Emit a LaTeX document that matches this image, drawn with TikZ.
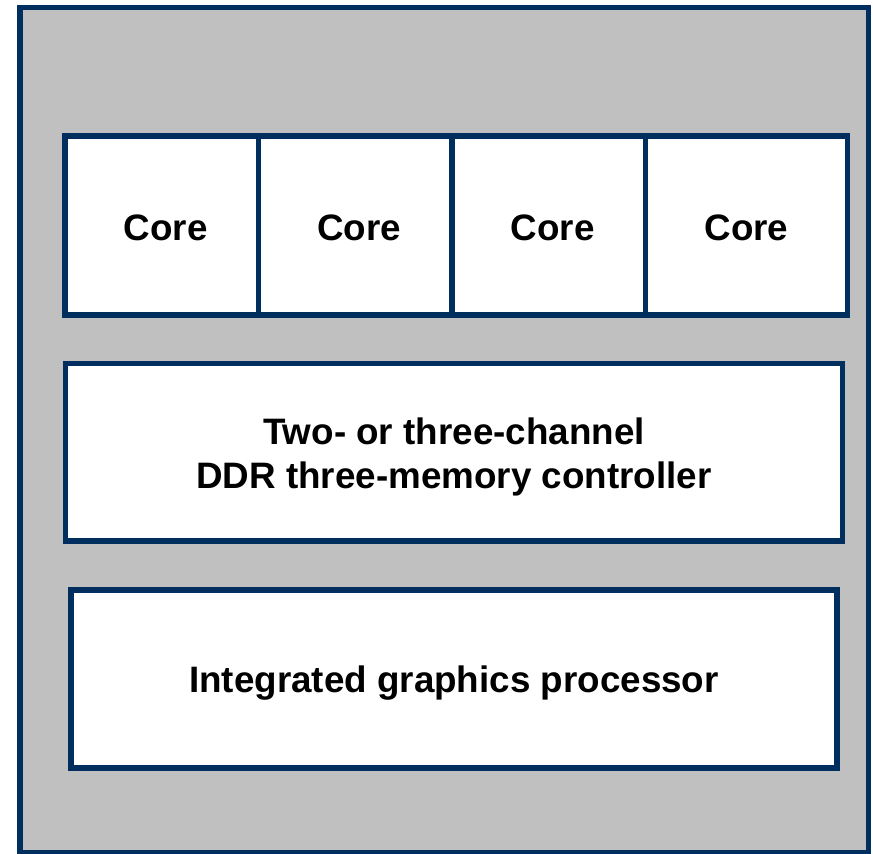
\documentclass[tikz,border=0pt]{standalone}
\usepackage{fontspec}
\setmainfont{Liberation Sans}
\usetikzlibrary{positioning}
\definecolor{chipline}{RGB}{0,47,95}
\definecolor{diegray}{RGB}{192,192,192}

\begin{document}
\begin{tikzpicture}[x=1pt, y=-1pt,
    die/.style={rectangle, draw=chipline, fill=diegray, line width=5.5pt,
      outer sep=0pt, inner sep=0pt},
    block/.style={rectangle, draw=chipline, fill=white, line width=5.5pt,
      outer sep=0pt, inner sep=0pt, align=center,
      font=\fontsize{36.8}{44}\selectfont\bfseries},
    core/.style={block, minimum width=193.5pt, minimum height=179pt,
      text height=29pt, text depth=0pt}
  ]
    \useasboundingbox (0,0) rectangle (873,854);

    \node[die, anchor=north west, minimum width=848.5pt, minimum height=845.5pt] (die) at (20,7.5) {};

    \node[core, anchor=north west] (core1) at (65,136) {\hspace*{8pt}Core};
    \node[core, right=0pt of core1] (core2) {\hspace*{8pt}Core};
    \node[core, right=0pt of core2] (core3) {\hspace*{8pt}Core};
    \node[core, right=0pt of core3, minimum width=202pt] (core4) {Core};

    \node[block, anchor=north west, minimum width=777pt, minimum height=177.5pt,
      text height=81pt, text depth=8pt] (mem) at (65.5,363.5)
      {Two- or three-channel\\DDR three-memory controller};
    \node[block, anchor=north west, minimum width=766pt, minimum height=178pt,
      text height=35pt, text depth=8pt] (gpu) at (71,590)
      {Integrated graphics processor};
  \end{tikzpicture}
\end{document}
